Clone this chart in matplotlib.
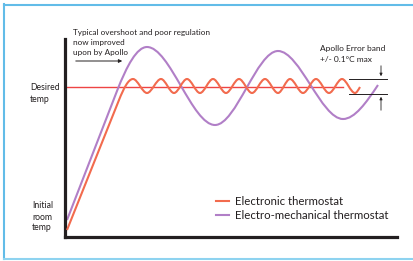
import matplotlib.pyplot as plt
from matplotlib.path import Path
from matplotlib.patches import PathPatch
from matplotlib.lines import Line2D

# valores (unidades arbitrarias: tiempo, temperatura)
deseada = 150
fin_deseada = 278

# termostato electronico: rampa y luego oscilacion pequena
elec_x = [2, 54, 68, 82, 96, 109, 122, 135, 148, 161, 174, 187, 200, 213, 225, 238, 251, 264, 277, 290, 295]
elec_y = [7, 137, 158, 144, 158, 144, 158, 144, 158, 144, 158, 144, 158, 144, 158, 144, 158, 144, 158, 144, 150]
elec_pend = [2.5, 2.5, 0, 0, 0, 0, 0, 0, 0, 0, 0, 0, 0, 0, 0, 0, 0, 0, 0, 0, 1.7]

# termostato electromecanico: sobreimpulso grande
mec_x = [2, 52, 82, 150, 213, 278, 313]
mec_y = [17, 146, 190, 112, 186, 118, 152]
mec_pend = [2.57, 2.57, 0, 0, 0, 0, 1.5]

texto_arriba = ['Typical overshoot and poor regulation', 'now improved', 'upon by Apollo']
banda_sup, banda_inf = 158, 143

plt.rcParams['font.family'] = ['Lato', 'DejaVu Sans']


def curva(xs, ys, ps):
    # une los puntos con tramos cubicos (hermite -> bezier)
    verts = [(xs[0], ys[0])]
    codes = [Path.MOVETO]
    for i in range(len(xs) - 1):
        dx = (xs[i + 1] - xs[i]) / 3
        verts += [(xs[i] + dx, ys[i] + dx * ps[i]),
                  (xs[i + 1] - dx, ys[i + 1] - dx * ps[i + 1]),
                  (xs[i + 1], ys[i + 1])]
        codes += [Path.CURVE4] * 3
    return Path(verts, codes)


fig = plt.figure(figsize=(4.14, 2.61), dpi=100)
ax = fig.add_axes([65 / 414, 24 / 261, 332 / 414, 198 / 261])
ax.set_xlim(0, 332)
ax.set_ylim(0, 198)

# marco azul (sin lado derecho)
azul = '#62bce8'
fig.add_artist(Line2D([4 / 414, 1], [1 - 4.5 / 261, 1 - 4.5 / 261], color=azul, lw=1.5))
fig.add_artist(Line2D([4 / 414, 4 / 414], [1 - 4 / 261, 2 / 261], color=azul, lw=1.5))
fig.add_artist(Line2D([4 / 414, 1], [2 / 261, 2 / 261], color='#8ed3f0', lw=1.5))

rojo = '#f26b4e'
morado = '#b17fc7'

ax.plot([0, fin_deseada], [deseada, deseada], color='#ee4444', lw=1.0, zorder=1)
ax.add_patch(PathPatch(curva(mec_x, mec_y, mec_pend), fill=False, edgecolor=morado, lw=1.5, zorder=2))
ax.add_patch(PathPatch(curva(elec_x, elec_y, elec_pend), fill=False, edgecolor=rojo, lw=1.5, zorder=3))

for s in ['top', 'right']:
    ax.spines[s].set_visible(False)
for s in ['left', 'bottom']:
    ax.spines[s].set_linewidth(2.3)
    ax.spines[s].set_color('#231f20')
ax.set_xticks([])
ax.set_yticks([])
ax.patch.set_alpha(0)

# textos
for i, t in enumerate(texto_arriba):
    ax.text(8, 205 - i * 10.5, t, fontsize=5.9, va='center', ha='left', color='#231f20', clip_on=False)
ax.annotate('', xy=(60, 176), xytext=(8, 176),
            arrowprops=dict(arrowstyle='-|>', color='#231f20', lw=0.7, mutation_scale=5), annotation_clip=False)

ax.text(-35, 149, 'Desired', fontsize=6.2, va='center', color='#231f20', clip_on=False)
ax.text(-35, 138, 'temp', fontsize=6.2, va='center', color='#231f20', clip_on=False)
for i, t in enumerate(['Initial', 'room', 'temp']):
    ax.text(-33, 31 - i * 11, t, fontsize=6.2, va='center', color='#231f20', clip_on=False)

# banda de error
ax.text(255, 188, 'Apollo Error band', fontsize=6.0, va='center', color='#231f20', clip_on=False)
ax.text(255, 178, '+/- 0.1°C max', fontsize=6.0, va='center', color='#231f20', clip_on=False)
ax.plot([284, 322], [banda_sup, banda_sup], color='#231f20', lw=0.7, clip_on=False)
ax.plot([284, 322], [banda_inf, banda_inf], color='#231f20', lw=0.7, clip_on=False)
ax.annotate('', xy=(316, banda_sup), xytext=(316, 174),
            arrowprops=dict(arrowstyle='-|>', color='#231f20', lw=0.6, mutation_scale=4), annotation_clip=False)
ax.annotate('', xy=(316, banda_inf), xytext=(316, 124),
            arrowprops=dict(arrowstyle='-|>', color='#231f20', lw=0.6, mutation_scale=4), annotation_clip=False)

handles = [Line2D([], [], color=rojo, lw=1.5), Line2D([], [], color=morado, lw=1.5)]
fig.legend(handles, ['Electronic thermostat', 'Electro-mechanical thermostat'],
           loc='upper left', bbox_to_anchor=(216 / 414, 1 - 196 / 261), frameon=False,
           fontsize=8.2, handlelength=1.15, handletextpad=0.5, labelspacing=0.3,
           borderpad=0, borderaxespad=0, labelcolor='#231f20')

fig.savefig('out.png', dpi=100)
